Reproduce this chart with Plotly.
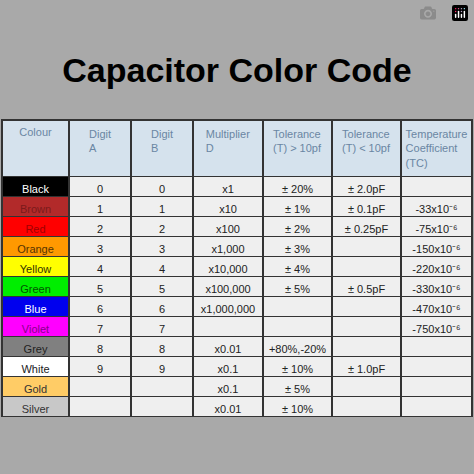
import plotly.graph_objects as go

headers = ["Colour", "Digit<br>A", "Digit<br>B", "Multiplier<br>D", "Tolerance<br>(T) > 10pf", "Tolerance<br>(T) < 10pf", "Temperature<br>Coefficient<br>(TC)"]
colours = ["Black", "Brown", "Red", "Orange", "Yellow", "Green", "Blue", "Violet", "Grey", "White", "Gold", "Silver"]
digit_a = ["0", "1", "2", "3", "4", "5", "6", "7", "8", "9", "", ""]
digit_b = ["0", "1", "2", "3", "4", "5", "6", "7", "8", "9", "", ""]
multiplier = ["x1", "x10", "x100", "x1,000", "x10,000", "x100,000", "x1,000,000", "", "x0.01", "x0.1", "x0.1", "x0.01"]
tol_high = ["± 20%", "± 1%", "± 2%", "± 3%", "± 4%", "± 5%", "", "", "+80%,-20%", "± 10%", "± 5%", "± 10%"]
tol_low = ["± 2.0pF", "± 0.1pF", "± 0.25pF", "", "", "± 0.5pF", "", "", "", "± 1.0pF", "", ""]
temp_coef = ["", "-33x10⁻⁶", "-75x10⁻⁶", "-150x10⁻⁶", "-220x10⁻⁶", "-330x10⁻⁶",
             "-470x10⁻⁶", "-750x10⁻⁶", "", "", "", ""]

swatch = ["#000000", "#b22a2a", "#ff0000", "#ff9900", "#ffff00", "#00ee00", "#0000ee", "#ff00ff", "#808080", "#ffffff", "#ffcc66", "#c8c8c8"]
swatch_text = ["#ffffff", "#7a1a1a", "#a00000", "#553300", "#333300", "#005500", "#ffffff", "#880088", "#222222", "#222222", "#333333", "#333333"]

ncols = 7
cell_fill = [swatch] + [["#efefef"] * len(colours)] * (ncols - 1)
cell_font = [swatch_text] + [["#222222"] * len(colours)] * (ncols - 1)

fig = go.Figure(go.Table(
    domain=dict(x=[2/474, 472/474], y=[0, 1 - 120/474]),
    columnwidth=[67, 62, 62, 70, 69, 69, 71],
    header=dict(values=headers, fill_color="#d5e2ed", line=dict(color="#333333", width=1.5),
                font=dict(family="Liberation Sans, Arial", size=11, color="#6a86a3"),
                align=["center"] * ncols, height=47),
    cells=dict(values=[colours, digit_a, digit_b, multiplier, tol_high, tol_low, temp_coef],
               fill_color=cell_fill, line=dict(color="#333333", width=1.5),
               font=dict(family="Liberation Sans, Arial", size=11, color=cell_font),
               align=["center"] * ncols, height=20),
))
fig.update_layout(
    width=474, height=474, margin=dict(l=0, r=0, t=0, b=0),
    paper_bgcolor="#a9a9a9",
    title=dict(text="<b>Capacitor Color Code</b>", x=0.5, xanchor="center", y=1 - 70/474, yanchor="middle",
               font=dict(family="Liberation Sans, Arial", size=34, color="#000000")),
)
fig.write_html("out.html", post_script="document.body.style.margin='0';document.body.style.background='#a9a9a9';")
